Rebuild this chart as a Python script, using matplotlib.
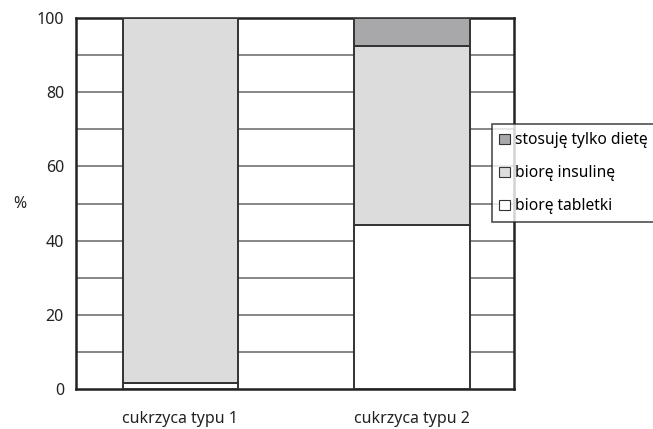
import matplotlib.pyplot as plt

groups = ['cukrzyca typu 1', 'cukrzyca typu 2']
tabletki = [1.7, 44.3]
insulina = [98.3, 48.1]
dieta = [0.0, 7.6]

plt.rcParams['font.family'] = ['Noto Sans', 'DejaVu Sans']

fig = plt.figure(figsize=(6.53, 4.29), dpi=100)
ax = fig.add_axes([0.117, 0.093, 0.670, 0.865])

x = [0, 1]
w = 0.497
edge = dict(edgecolor='#333333', linewidth=1.4, zorder=3)
ax.bar(x, tabletki, w, color='white', label='biorę tabletki', **edge)
ax.bar(x, insulina, w, bottom=tabletki, color='#dcdcdd', label='biorę insulinę', **edge)
bottom2 = [a + b for a, b in zip(tabletki, insulina)]
ax.bar(x, dieta, w, bottom=bottom2, color='#a8a8aa', label='stosuję tylko dietę', **edge)

ax.set_xlim(-0.449, 1.44)
ax.set_ylim(0, 100)
ax.set_yticks(range(0, 101, 20))
for v in range(10, 100, 10):
    ax.axhline(v, color='#727272', linewidth=1.2, zorder=1)

ax.set_xticks(x)
ax.set_xticklabels(groups)
ax.tick_params(length=0, labelsize=11.5, colors='#222222', pad=9)
ax.tick_params(axis='x', pad=16)
for s in ax.spines.values():
    s.set_color('#222222')
    s.set_linewidth(1.8)

fig.text(0.02, 0.525, '%', fontsize=11.5, color='#222222', va='center')

handles, labels = ax.get_legend_handles_labels()
leg = fig.legend(handles[::-1], labels[::-1], loc='upper left',
                 bbox_to_anchor=(0.753, 0.71), fontsize=11.2,
                 frameon=True, fancybox=False, handlelength=0.65,
                 handleheight=0.65, handletextpad=0.35, labelspacing=1.1,
                 borderpad=0.5, borderaxespad=0)
leg.get_frame().set_edgecolor('#222222')
leg.get_frame().set_linewidth(1.2)
for h in leg.legend_handles:
    h.set_linewidth(0.8)

fig.savefig('out.png', dpi=100)
